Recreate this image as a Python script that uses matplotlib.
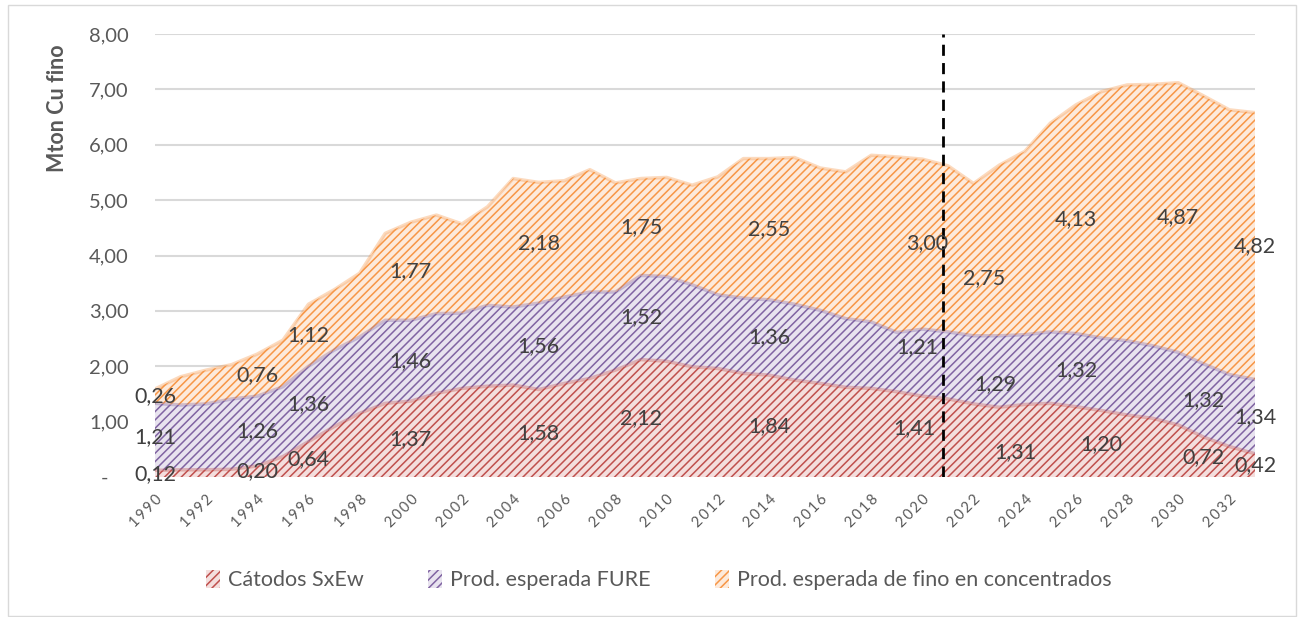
import numpy as np
import matplotlib
matplotlib.use("Agg")
import matplotlib.pyplot as plt
from matplotlib.patches import Patch, Rectangle

plt.rcParams['font.family'] = ['Lato', 'DejaVu Sans']
plt.rcParams['hatch.linewidth'] = 1.1

years = np.arange(1990, 2034)

# Mton Cu fino
catodos = [0.12, 0.13, 0.13, 0.14, 0.20, 0.37, 0.64, 0.91, 1.15, 1.33,
           1.37, 1.51, 1.60, 1.64, 1.66, 1.58, 1.69, 1.78, 1.93, 2.12,
           2.09, 1.99, 1.96, 1.87, 1.84, 1.75, 1.69, 1.62, 1.60, 1.54,
           1.46, 1.41, 1.32, 1.26, 1.31, 1.33, 1.27, 1.20, 1.12, 1.06,
           0.94, 0.72, 0.55, 0.42]
fure = [1.21, 1.17, 1.19, 1.27, 1.26, 1.26, 1.36, 1.38, 1.38, 1.50,
        1.46, 1.44, 1.36, 1.46, 1.41, 1.56, 1.56, 1.56, 1.41, 1.52,
        1.53, 1.48, 1.33, 1.36, 1.36, 1.37, 1.32, 1.24, 1.20, 1.07,
        1.21, 1.21, 1.23, 1.29, 1.26, 1.29, 1.32, 1.31, 1.34, 1.31,
        1.31, 1.32, 1.30, 1.34]
concentrados = [0.26, 0.51, 0.61, 0.62, 0.76, 0.84, 1.12, 1.09, 1.15, 1.57,
                1.77, 1.78, 1.61, 1.78, 2.32, 2.18, 2.10, 2.21, 1.97, 1.75,
                1.79, 1.80, 2.13, 2.52, 2.55, 2.65, 2.57, 2.65, 3.01, 3.17,
                3.07, 3.00, 2.75, 3.08, 3.31, 3.77, 4.13, 4.45, 4.62, 4.72,
                4.87, 4.84, 4.78, 4.82]

names = ["Cátodos SxEw", "Prod. esperada FURE",
         "Prod. esperada de fino en concentrados"]
line_colors = ['#C0504D', '#8064A2', '#F79646']
fill_colors = ['#F4DEDD', '#E8E3EF', '#FDEADB']

# years that carry a data label, per series
label_years = [
    [1990, 1994, 1996, 2000, 2005, 2009, 2014, 2021, 2024, 2027, 2031, 2033],
    [1990, 1994, 1996, 2000, 2005, 2009, 2014, 2021, 2023, 2026, 2031, 2033],
    [1990, 1994, 1996, 2000, 2005, 2009, 2014, 2021, 2022, 2026, 2030, 2033],
]
# labels that were nudged by hand in the original (pixels)
nudges = {(0, 2021): (-34, 10), (1, 2021): (-31, 18), (2, 2021): (-21, 6),
          (2, 2022): (11, -18), (1, 2023): (-4, -13), (0, 2024): (-9, -11)}

projection_start = 2020.8

fig = plt.figure(figsize=(13.02, 6.17), dpi=100)
ax = fig.add_axes([155 / 1302, 1 - 477 / 617, 1100 / 1302, 443 / 617])

series = [np.array(catodos), np.array(fure), np.array(concentrados)]
base = np.zeros(len(years))
bottoms = []
for i, vals in enumerate(series):
    top = base + vals
    ax.fill_between(years, base, top, facecolor=fill_colors[i],
                    edgecolor=line_colors[i], hatch='////', linewidth=0,
                    zorder=2 + i * 0.1)
    ax.plot(years, top, color=line_colors[i], alpha=0.35, lw=2.5,
            zorder=2.5 + i * 0.1)
    bottoms.append(base.copy())
    base = top

ax.axvline(projection_start, color='black', lw=2, linestyle=(0, (4, 2.6)),
           zorder=5)

for i, vals in enumerate(series):
    for yr in label_years[i]:
        k = yr - 1990
        v = vals[k]
        ymid = bottoms[i][k] + v / 2
        dx, dy = nudges.get((i, yr), (0, 0))
        ax.annotate(f"{v:.2f}".replace('.', ','), (yr, ymid),
                    xytext=(dx, dy), textcoords='offset pixels',
                    ha='center', va='center', fontsize=15.5, color='#404040',
                    zorder=6, annotation_clip=False)

ax.set_xlim(1990, 2033)
ax.set_ylim(0, 8)
ax.set_yticks(np.arange(0, 9))
ax.set_yticklabels(["-    "] + [f"{v:.2f}".replace('.', ',') for v in range(1, 9)])
ax.yaxis.grid(True, color='#D9D9D9', lw=1.5, zorder=0)
ax.set_axisbelow(True)
ax.tick_params(axis='y', length=0, pad=19, labelsize=14.5, labelcolor='#595959')

even = years[::2]
ax.set_xticks(even)
ax.set_xticklabels(['\u2009'.join(str(y)) for y in even], rotation=45,
                   ha='right', va='top', rotation_mode='anchor',
                   fontsize=10.5, color='#595959')
ax.tick_params(axis='x', length=0, pad=11)
for s in ax.spines.values():
    s.set_visible(False)

fig.text(58 / 1302, 1 - 108 / 617, "Mton Cu fino", rotation=90, ha='center',
         va='center', fontsize=15.5, fontweight='bold', color='#595959')

handles = [Patch(facecolor=fill_colors[i], edgecolor=line_colors[i],
                 hatch='////', linewidth=0) for i in range(3)]
fig.legend(handles, names, loc='center', bbox_to_anchor=(0.506, 0.06),
           ncol=3, frameon=False, fontsize=15.5, labelcolor='#595959',
           handlelength=0.65, handleheight=0.9, handletextpad=0.35,
           columnspacing=3.0)

fig.add_artist(Rectangle((8 / 1302, 0.002), 1288 / 1302, 1 - 5 / 617 - 0.002,
                         transform=fig.transFigure, fill=False,
                         edgecolor='#D9D9D9', lw=1))

fig.savefig('out.png', dpi=100)
